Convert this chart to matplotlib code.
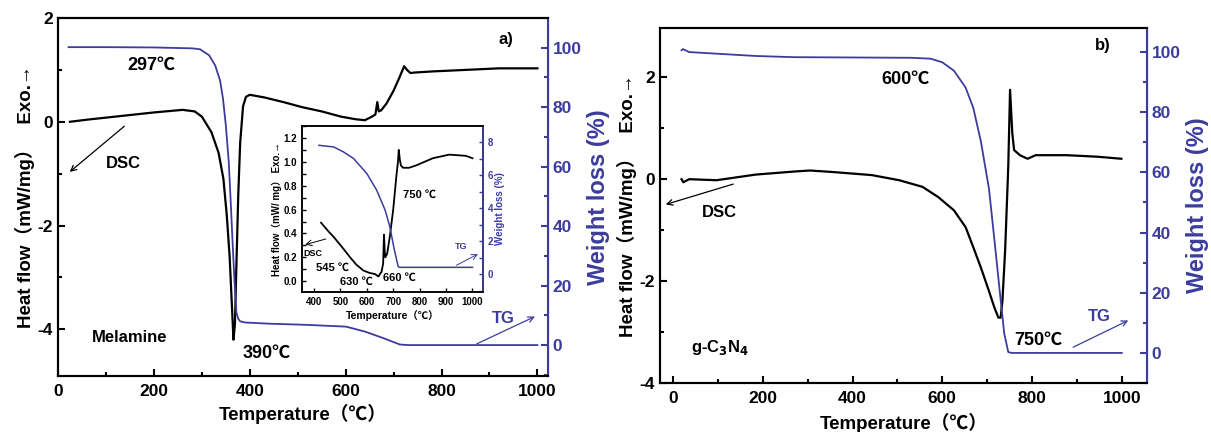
import numpy as np
import matplotlib.pyplot as plt
from matplotlib.ticker import MultipleLocator

plt.rcParams['font.family'] = ['Liberation Sans', 'Noto Sans CJK SC', 'DejaVu Sans']
plt.rcParams['font.weight'] = 'bold'
plt.rcParams['axes.unicode_minus'] = False

BLUE = "#3c3c9e"

# ---- panel a) melamine: DSC (mW/mg) and TG (%)
a_dsc_T = [25, 60, 100, 150, 200, 260, 285, 300, 320, 335, 345, 352, 358, 362, 366, 369, 372, 376,
           380, 386, 392, 400, 430, 470, 510, 550, 590, 620, 640, 655, 662, 666, 669, 674, 685,
           700, 712, 722, 728, 735, 745, 780, 850, 920, 1000]
a_dsc_v = [0.0, 0.04, 0.08, 0.13, 0.18, 0.23, 0.2, 0.1, -0.2, -0.6, -1.1, -1.8, -2.6, -3.4, -4.2, -3.9,
           -2.8, -1.4, -0.4, 0.3, 0.48, 0.52, 0.47, 0.38, 0.28, 0.2, 0.1, 0.05, 0.03, 0.1, 0.14, 0.38,
           0.2, 0.22, 0.35, 0.6, 0.85, 1.07, 1.0, 0.94, 0.95, 0.97, 1.0, 1.03, 1.03]
a_tg_T = [22, 100, 200, 280, 296, 315, 328, 338, 344, 350, 356, 360, 364, 368, 372, 376, 380, 390,
          440, 520, 601, 641, 681, 700, 713, 730, 800, 900, 1000]
a_tg_v = [100.2, 100.2, 100.1, 99.8, 99.5, 97.5, 94, 89, 83, 74, 62, 49, 35, 22, 11, 8.8, 8, 7.6,
          7.2, 6.8, 6.2, 4.5, 2.2, 1.0, 0.2, 0.0, 0.0, 0.0, 0.0]

# inset of panel a)
in_dsc_T = [427, 450, 475, 505, 537, 560, 587, 610, 631, 644, 656, 662, 665, 668, 670, 677, 687,
            700, 712, 718, 721, 725, 729, 737, 760, 787, 850, 912, 975, 1000]
in_dsc_v = [0.49, 0.43, 0.37, 0.29, 0.2, 0.14, 0.09, 0.07, 0.06, 0.04, 0.08, 0.15, 0.39, 0.25, 0.2,
            0.23, 0.37, 0.6, 0.88, 1.0, 1.1, 1.02, 0.97, 0.95, 0.95, 0.97, 1.03, 1.06, 1.05, 1.03]
in_tg_T = [419, 475, 512, 550, 600, 637, 669, 687, 704, 714, 719, 725, 800, 900, 1000]
in_tg_v = [7.8, 7.7, 7.4, 7.0, 6.1, 5.1, 3.9, 2.9, 1.5, 0.8, 0.46, 0.42, 0.42, 0.42, 0.42]

# ---- panel b) g-C3N4
b_dsc_T = [19, 23, 36, 97, 184, 270, 305, 357, 443, 504, 556, 591, 626, 652, 669, 686, 704, 716,
           725, 730, 734, 740, 747, 751, 756, 760, 773, 790, 808, 877, 946, 999]
b_dsc_v = [-0.01, -0.07, -0.01, -0.03, 0.08, 0.14, 0.16, 0.13, 0.07, -0.03, -0.16, -0.36, -0.62,
           -0.95, -1.34, -1.74, -2.2, -2.52, -2.72, -2.72, -2.39, -1.41, 0.23, 1.74, 0.89, 0.56,
           0.46, 0.39, 0.46, 0.46, 0.43, 0.39]
b_tg_T = [19, 22, 36, 184, 270, 530, 574, 600, 626, 652, 669, 686, 704, 716, 730, 738, 747, 754,
          850, 1000]
b_tg_v = [100.6, 101.0, 100.0, 98.7, 98.3, 98.1, 97.8, 96.6, 93.8, 88.2, 81.5, 70.3, 54.6, 37.8,
          17.7, 6.5, 0.3, 0.0, 0.0, 0.0]

fig = plt.figure(figsize=(12.11, 4.32), dpi=100)

LBL = "Heat flow\uff08mW/mg\uff09   Exo.\u2192"
TLBL = "Temperature\uff08\u2103\uff09"


def style(ax, ax2):
    ax.tick_params(direction='in', which='both', labelsize=12.5, width=1.5)
    ax.tick_params(which='major', length=5)
    ax.tick_params(which='minor', length=3)
    ax.tick_params(axis='x', pad=6)
    ax2.tick_params(direction='in', which='both', labelsize=12.5, width=1.5,
                    colors=BLUE)
    ax2.tick_params(which='major', length=5)
    ax2.tick_params(which='minor', length=3)
    for s in ['left', 'bottom', 'top']:
        ax.spines[s].set_linewidth(1.5)
        ax2.spines[s].set_linewidth(1.5)
    ax2.spines['right'].set_color(BLUE)
    ax2.spines['right'].set_linewidth(1.5)
    for t in ax.get_xticklabels() + ax.get_yticklabels() + ax2.get_yticklabels():
        t.set_fontweight('bold')


# panel a
ax = fig.add_axes([0.0479, 0.1296, 0.4046, 0.8287])
ax2 = ax.twinx()
ax.plot(a_dsc_T, a_dsc_v, color='black', lw=1.6)
ax2.plot(a_tg_T, a_tg_v, color=BLUE, lw=1.3)
ax.set_xlim(0, 1022)
ax.set_ylim(-4.9, 2.0)
ax2.set_ylim(-10.4, 110)
ax.xaxis.set_major_locator(MultipleLocator(200))
ax.xaxis.set_minor_locator(MultipleLocator(100))
ax.yaxis.set_major_locator(MultipleLocator(2))
ax.yaxis.set_minor_locator(MultipleLocator(1))
ax2.yaxis.set_major_locator(MultipleLocator(20))
ax2.yaxis.set_minor_locator(MultipleLocator(10))
style(ax, ax2)
ax.set_xlabel(TLBL, fontsize=13.5, fontweight='bold', labelpad=3)
ax.set_ylabel(LBL, fontsize=13.5, fontweight='bold', labelpad=2)
ax2.set_ylabel("Weight loss (%)", fontsize=17, fontweight='bold', color=BLUE, labelpad=4)
ax.text(145, 1.0, "297\u2103", fontsize=13, fontweight='bold')
ax.text(385, -4.55, "390\u2103", fontsize=13, fontweight='bold')
ax.text(100, -0.9, "DSC", fontsize=12, fontweight='bold')
ax.text(70, -4.25, "Melamine", fontsize=12, fontweight='bold')
ax.text(918, 1.5, "a)", fontsize=12, fontweight='bold')
ax.annotate("", xy=(20, -1.0), xytext=(143, -0.05),
            arrowprops=dict(arrowstyle='->', color='black', lw=0.9))
ax2.text(905, 7.5, "TG", fontsize=12, fontweight='bold', color=BLUE)
ax2.annotate("", xy=(1000, 10), xytext=(868, 0),
             arrowprops=dict(arrowstyle='->', color=BLUE, lw=0.9))

# inset
ai = fig.add_axes([0.2494, 0.3241, 0.1495, 0.3843])
ai2 = ai.twinx()
ai.plot(in_dsc_T, in_dsc_v, color='black', lw=1.3)
ai2.plot(in_tg_T, in_tg_v, color=BLUE, lw=1.1)
ai.set_xlim(355, 1040)
ai.set_ylim(-0.09, 1.3)
ai2.set_ylim(-1.07, 8.97)
ai.xaxis.set_major_locator(MultipleLocator(100))
ai.yaxis.set_major_locator(MultipleLocator(0.2))
ai.yaxis.set_minor_locator(MultipleLocator(0.1))
ai2.yaxis.set_major_locator(MultipleLocator(2))
ai2.yaxis.set_minor_locator(MultipleLocator(1))
ai.yaxis.set_major_formatter(plt.FormatStrFormatter('%.1f'))
ai.tick_params(direction='in', which='both', labelsize=7, width=1, length=3)
ai2.tick_params(direction='in', which='both', labelsize=7, width=1, length=3, colors=BLUE)
for s in ['left', 'bottom', 'top', 'right']:
    ai.spines[s].set_linewidth(1.1)
    ai2.spines[s].set_linewidth(1.1)
ai2.spines['right'].set_color(BLUE)
ai.set_xlabel(TLBL, fontsize=7.5, fontweight='bold', labelpad=2)
ai.set_ylabel("Heat flow\uff08mW/ mg\uff09 Exo.\u2192", fontsize=7, fontweight='bold', labelpad=1)
ai2.set_ylabel("Weight loss (%)", fontsize=7, fontweight='bold', color=BLUE, labelpad=1)
ai.text(737, 0.7, "750 \u2103", fontsize=8, fontweight='bold')
ai.text(362, 0.21, "DSC", fontsize=6.5, fontweight='bold')
ai.text(406, 0.09, "545 \u2103", fontsize=8, fontweight='bold')
ai.text(500, -0.03, "630 \u2103", fontsize=8, fontweight='bold')
ai.text(662, 0.0, "660 \u2103", fontsize=8, fontweight='bold')
ai.annotate("", xy=(357, 0.3), xytext=(455, 0.36),
            arrowprops=dict(arrowstyle='->', color='black', lw=0.7))
ai2.text(935, 1.5, "TG", fontsize=6.5, color=BLUE)
ai2.annotate("", xy=(1030, 1.3), xytext=(930, 0.47),
             arrowprops=dict(arrowstyle='->', color=BLUE, lw=0.7))

# panel b
bx = fig.add_axes([0.545, 0.1134, 0.4021, 0.8218])
bx2 = bx.twinx()
bx.plot(b_dsc_T, b_dsc_v, color='black', lw=1.6)
bx2.plot(b_tg_T, b_tg_v, color=BLUE, lw=1.3)
bx.set_xlim(-29, 1056)
bx.set_ylim(-4, 2.95)
bx2.set_ylim(-10, 108)
bx.xaxis.set_major_locator(MultipleLocator(200))
bx.xaxis.set_minor_locator(MultipleLocator(100))
bx.yaxis.set_major_locator(MultipleLocator(2))
bx.yaxis.set_minor_locator(MultipleLocator(1))
bx2.yaxis.set_major_locator(MultipleLocator(20))
bx2.yaxis.set_minor_locator(MultipleLocator(10))
style(bx, bx2)
bx.set_xlabel(TLBL, fontsize=13.5, fontweight='bold', labelpad=5)
bx.set_ylabel(LBL, fontsize=13.5, fontweight='bold', labelpad=2)
bx2.set_ylabel("Weight loss (%)", fontsize=17, fontweight='bold', color=BLUE, labelpad=4)
bx.text(465, 1.85, "600\u2103", fontsize=13, fontweight='bold')
bx.text(760, -3.25, "750\u2103", fontsize=13, fontweight='bold')
bx.text(65, -0.75, "DSC", fontsize=12, fontweight='bold')
bx.text(40, -3.4, "g-C$_3$N$_4$", fontsize=12, fontweight='bold')
bx.text(940, 2.75, "b)", fontsize=12, fontweight='bold', va='top')
bx.annotate("", xy=(-22, -0.52), xytext=(140, -0.09),
            arrowprops=dict(arrowstyle='->', color='black', lw=0.9))
bx2.text(925, 10.5, "TG", fontsize=12, fontweight='bold', color=BLUE)
bx2.annotate("", xy=(1020, 11.2), xytext=(886, 1.5),
             arrowprops=dict(arrowstyle='->', color=BLUE, lw=0.9))

plt.savefig("out.png", dpi=100)
